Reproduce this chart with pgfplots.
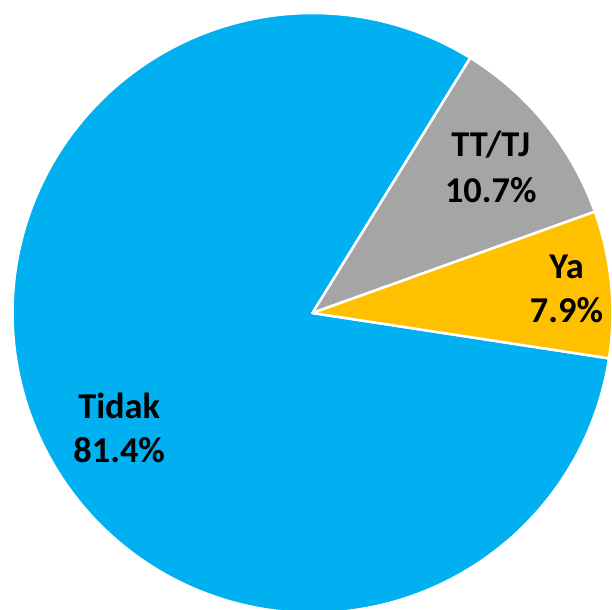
\documentclass[border=0pt]{standalone}
\usepackage{pgfplots}
\pgfplotsset{compat=1.18}
\usepgfplotslibrary{polar}
\usepackage{fontspec}
\setmainfont{Carlito}
\definecolor{cBlue}{HTML}{00B0F0}
\definecolor{cGray}{HTML}{A5A5A5}
\definecolor{cGold}{HTML}{FFC000}
\begin{document}
\begin{tikzpicture}
% shares in percent
\def\pYa{7.9}
\def\pTT{10.7}
\def\pTi{81.4}
\pgfmathsetmacro\aYa{-8.7}
\pgfmathsetmacro\bYa{\aYa+3.6*\pYa}
\pgfmathsetmacro\bTT{\bYa+3.6*\pTT}
\pgfmathsetmacro\bTi{\bTT+3.6*\pTi}
\begin{polaraxis}[hide axis, scale only axis, width=600bp, height=600bp,
  xmin=0, xmax=360, ymin=0, ymax=300, clip=false]
\addplot[fill=cBlue, draw=white, line width=2.5bp, line join=round, domain=\bTT:\bTi, samples=200] {300} -- (axis cs:0,0) -- cycle;
\addplot[fill=cGray, draw=white, line width=2.5bp, line join=round, domain=\bYa:\bTT, samples=40] {300} -- (axis cs:0,0) -- cycle;
\addplot[fill=cGold, draw=white, line width=2.5bp, line join=round, domain=\aYa:\bYa, samples=40] {300} -- (axis cs:0,0) -- cycle;
\coordinate (O) at (axis cs:0,0);
\end{polaraxis}
\pgfresetboundingbox
\path ([shift={(-312.5bp,-297bp)}]O) rectangle ([shift={(299.5bp,313bp)}]O);
\begin{scope}[every node/.style={anchor=base, inner sep=0pt, font=\bfseries\fontsize{36.5}{42}\selectfont}]
\node at ([shift={(178.3bp,156.3bp)}]O) {TT/TJ};
\node at ([shift={(178.3bp,110.7bp)}]O) {10.7\%};
\node at ([shift={(254bp,34.7bp)}]O) {Ya};
\node at ([shift={(254bp,-9.3bp)}]O) {7.9\%};
\node at ([shift={(-193.3bp,-105.3bp)}]O) {Tidak};
\node at ([shift={(-193.3bp,-149.3bp)}]O) {81.4\%};
\end{scope}
\end{tikzpicture}
\end{document}
